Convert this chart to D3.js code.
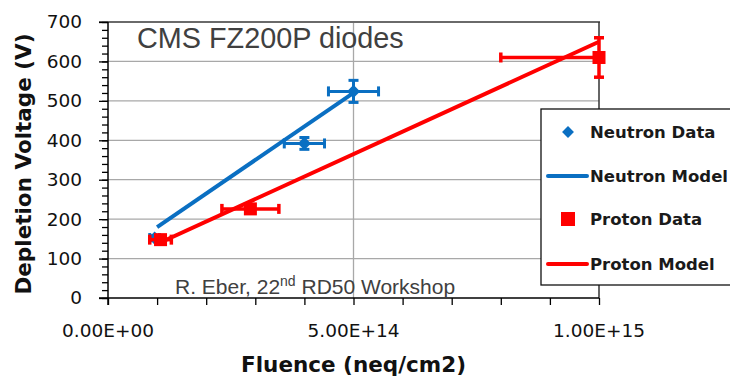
<!DOCTYPE html>
<html>
<head>
<meta charset="utf-8">
<script src="https://d3js.org/d3.v7.min.js"></script>
<style>
  body { margin: 0; background: #fff; }
  svg { display: block; }
</style>
</head>
<body>
<svg id="vis"></svg>
<script>
  // data
  var neutronFluence = [0.95e14, 4.0e14, 5.0e14];
  var neutronVoltage = [152, 392, 524];
  var neutronFluenceErr = [0.1e14, 0.41e14, 0.51e14];
  var neutronVoltageErr = [6, 15, 28];

  var protonFluence = [1.07e14, 2.9e14, 1.0e15];
  var protonVoltage = [148, 226, 610];
  var protonFluenceErr = [0.22e14, 0.58e14, 2.0e14];
  var protonVoltageErr = [5, 10, 50];

  var neutronModelFluence = [1.0e14, 5.0e14];
  var neutronModelVoltage = [180, 520];
  var protonModelFluence = [1.0e14, 1.0e15];
  var protonModelVoltage = [137, 650];

  var xTickLabels = [0, 5e14, 1e15];
  var yTicks = [0, 100, 200, 300, 400, 500, 600, 700];
  var legendLabels = ["Neutron Data", "Neutron Model", "Proton Data", "Proton Model"];

  var blue = "#0a6fc2", red = "#ff0000";

  var svg = d3.select("#vis")
      .attr("width", 730)
      .attr("height", 378);

  var x = d3.scaleLinear().domain([0, 1e15]).range([108, 599]);
  var y = d3.scaleLinear().domain([0, 700]).range([298, 22]);

  function sci(d) {
    if (d === 0) return "0.00E+00";
    var s = d.toExponential(2).toUpperCase().split("E");
    var e = parseInt(s[1], 10);
    return s[0] + "E" + (e < 0 ? "-" : "+") + String(Math.abs(e)).padStart(2, "0");
  }

  // horizontal gridlines
  svg.append("g").selectAll("line")
      .data(yTicks.filter(function(d) { return d > 0 && d < 700; }))
      .enter().append("line")
      .attr("x1", x(0)).attr("x2", x(1e15))
      .attr("y1", function(d) { return y(d); })
      .attr("y2", function(d) { return y(d); })
      .attr("stroke", "#a8a8a8").attr("stroke-width", 1.3);

  // vertical gridline at 5E14
  svg.append("line")
      .attr("x1", x(5e14)).attr("x2", x(5e14))
      .attr("y1", y(700)).attr("y2", y(0))
      .attr("stroke", "#a8a8a8").attr("stroke-width", 1.3);

  // top and right border
  svg.append("line")
      .attr("x1", x(0) - 9).attr("x2", x(1e15) + 1)
      .attr("y1", y(700)).attr("y2", y(700))
      .attr("stroke", "#6a6a6a").attr("stroke-width", 2);
  svg.append("line")
      .attr("x1", x(1e15)).attr("x2", x(1e15))
      .attr("y1", y(700)).attr("y2", y(0))
      .attr("stroke", "#333").attr("stroke-width", 1.5);

  // x axis
  var xAxis = d3.axisBottom(x)
      .tickValues(d3.range(0, 11).map(function(i) { return i * 1e14; }))
      .tickSize(7)
      .tickFormat("");
  var gx = svg.append("g").attr("transform", "translate(0," + y(0) + ")").call(xAxis);
  gx.select(".domain").attr("d", "M" + (x(0) - 9) + ",0H" + x(1e15)).attr("stroke", "#000").attr("stroke-width", 1.5);
  gx.selectAll(".tick line").attr("stroke", "#000").attr("stroke-width", 1.3);

  svg.append("g").selectAll("text")
      .data(xTickLabels)
      .enter().append("text")
      .attr("x", function(d) { return x(d); })
      .attr("y", 337)
      .attr("text-anchor", "middle")
      .attr("font-family", "DejaVu Sans")
      .attr("font-size", 18.5)
      .attr("fill", "#111")
      .text(sci);

  // y axis with minor ticks
  var yMinor = d3.axisLeft(y).tickValues(d3.range(0, 701, 20)).tickSize(6).tickFormat("");
  var gym = svg.append("g").attr("transform", "translate(" + x(0) + ",0)").call(yMinor);
  gym.select(".domain").remove();
  gym.selectAll(".tick line").attr("stroke", "#000").attr("stroke-width", 1.3);

  var yAxis = d3.axisLeft(y).tickValues(yTicks).tickSize(9).tickPadding(17).tickFormat(d3.format("d"));
  var gy = svg.append("g").attr("transform", "translate(" + x(0) + ",0)").call(yAxis);
  gy.select(".domain").attr("d", "M0," + y(700) + "V" + (y(0) + 7)).attr("stroke", "#000").attr("stroke-width", 1.5);
  gy.selectAll(".tick line").attr("stroke", "#000").attr("stroke-width", 1.3);
  gy.selectAll(".tick text")
      .attr("font-family", "DejaVu Sans")
      .attr("font-size", 18.5)
      .attr("fill", "#111");

  // axis titles
  svg.append("text")
      .attr("x", x(5e14)).attr("y", 372)
      .attr("text-anchor", "middle")
      .attr("font-family", "DejaVu Sans").attr("font-weight", "bold")
      .attr("font-size", 21.5).attr("fill", "#111")
      .text("Fluence (neq/cm2)");
  svg.append("text")
      .attr("transform", "translate(31,164) rotate(-90)")
      .attr("text-anchor", "middle")
      .attr("font-family", "DejaVu Sans").attr("font-weight", "bold")
      .attr("font-size", 21.5).attr("fill", "#111")
      .text("Depletion Voltage (V)");

  // chart title and note
  svg.append("text")
      .attr("x", 137).attr("y", 48)
      .attr("font-family", "Liberation Sans").attr("font-size", 28.8)
      .attr("fill", "#404040")
      .text("CMS FZ200P diodes");
  var note = svg.append("text")
      .attr("x", 175).attr("y", 294)
      .attr("font-family", "Liberation Sans").attr("font-size", 21)
      .attr("fill", "#404040");
  note.append("tspan").text("R. Eber, 22");
  note.append("tspan").attr("font-size", 14).attr("dy", -8).text("nd");
  note.append("tspan").attr("dy", 8).text(" RD50 Workshop");

  // model lines
  var line = d3.line().x(function(d) { return x(d[0]); }).y(function(d) { return y(d[1]); });
  svg.append("path")
      .datum(d3.zip(neutronModelFluence, neutronModelVoltage))
      .attr("d", line).attr("fill", "none")
      .attr("stroke", blue).attr("stroke-width", 4);
  svg.append("path")
      .datum(d3.zip(protonModelFluence, protonModelVoltage))
      .attr("d", line).attr("fill", "none")
      .attr("stroke", red).attr("stroke-width", 4);

  // clip for horizontal error bars
  svg.append("clipPath").attr("id", "plotclip")
      .append("rect").attr("x", x(0)).attr("y", 0).attr("width", x(1e15) - x(0) + 2).attr("height", 378);

  function errorBars(fl, vo, fe, ve, color, width) {
    var pts = d3.range(fl.length).map(function(i) { return [fl[i], vo[i], fe[i], ve[i]]; });
    var gh = svg.append("g").attr("clip-path", "url(#plotclip)")
        .attr("stroke", color).attr("stroke-width", width);
    var gv = svg.append("g").attr("stroke", color).attr("stroke-width", width);
    pts.forEach(function(d) {
      var cy = y(d[1]);
      var xl = x(d[0] - d[2]), xr = x(d[0] + d[2]);
      gh.append("line").attr("x1", xl).attr("x2", xr).attr("y1", cy).attr("y2", cy);
      gh.append("line").attr("x1", xl).attr("x2", xl).attr("y1", cy - 5).attr("y2", cy + 5);
      gh.append("line").attr("x1", xr).attr("x2", xr).attr("y1", cy - 5).attr("y2", cy + 5);
      var cx = x(d[0]);
      var yt = y(d[1] + d[3]), yb = y(d[1] - d[3]);
      gv.append("line").attr("x1", cx).attr("x2", cx).attr("y1", yt).attr("y2", yb);
      gv.append("line").attr("x1", cx - 5).attr("x2", cx + 5).attr("y1", yt).attr("y2", yt);
      gv.append("line").attr("x1", cx - 5).attr("x2", cx + 5).attr("y1", yb).attr("y2", yb);
    });
  }
  errorBars(neutronFluence, neutronVoltage, neutronFluenceErr, neutronVoltageErr, blue, 3);

  svg.append("g").selectAll("path")
      .data(d3.zip(neutronFluence, neutronVoltage))
      .enter().append("path")
      .attr("transform", function(d) { return "translate(" + x(d[0]) + "," + y(d[1]) + ")"; })
      .attr("d", d3.symbol().type(d3.symbolDiamond2).size(110))
      .attr("fill", blue);

  errorBars(protonFluence, protonVoltage, protonFluenceErr, protonVoltageErr, red, 3.5);

  svg.append("g").selectAll("rect")
      .data(d3.zip(protonFluence, protonVoltage))
      .enter().append("rect")
      .attr("x", function(d) { return x(d[0]) - 6.5; })
      .attr("y", function(d) { return y(d[1]) - 6.5; })
      .attr("width", 13).attr("height", 13)
      .attr("fill", red);

  // legend
  var lg = svg.append("g");
  lg.append("rect")
      .attr("x", 541).attr("y", 109).attr("width", 200).attr("height", 176)
      .attr("fill", "#fff").attr("stroke", "#111").attr("stroke-width", 1.3);
  var ly = [132, 176, 219, 264];
  lg.append("path")
      .attr("transform", "translate(568," + ly[0] + ")")
      .attr("d", d3.symbol().type(d3.symbolDiamond2).size(90))
      .attr("fill", blue);
  lg.append("line").attr("x1", 548).attr("x2", 587).attr("y1", ly[1]).attr("y2", ly[1])
      .attr("stroke", blue).attr("stroke-width", 4).attr("stroke-linecap", "round");
  lg.append("rect").attr("x", 561).attr("y", ly[2] - 7).attr("width", 14).attr("height", 14)
      .attr("fill", red);
  lg.append("line").attr("x1", 548).attr("x2", 587).attr("y1", ly[3]).attr("y2", ly[3])
      .attr("stroke", red).attr("stroke-width", 4).attr("stroke-linecap", "round");
  lg.selectAll("text.lbl")
      .data(legendLabels)
      .enter().append("text")
      .attr("class", "lbl")
      .attr("x", 590)
      .attr("y", function(d, i) { return ly[i] + 6; })
      .attr("font-family", "DejaVu Sans").attr("font-weight", "bold")
      .attr("font-size", 16.5).attr("fill", "#1a1a1a")
      .text(function(d) { return d; });
</script>
</body>
</html>
